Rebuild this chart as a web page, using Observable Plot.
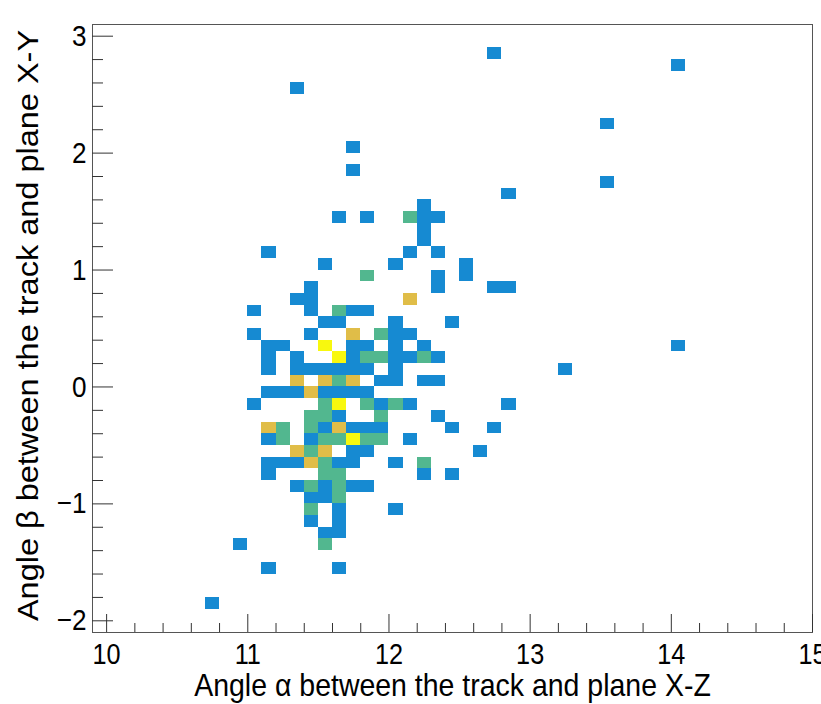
<!DOCTYPE html>
<html>
<head>
<meta charset="utf-8">
<script src="https://cdn.jsdelivr.net/npm/d3@7"></script>
<script src="https://cdn.jsdelivr.net/npm/@observablehq/plot@0.6"></script>
<style>
  html, body { margin: 0; padding: 0; background: #ffffff; }
</style>
</head>
<body>
<div id="chart"></div>
<script>
// 2D histogram: lower edge of each occupied bin (bin size 0.1 x 0.1) and its entry count
const rowLowEdges = [2.8, 2.7, 2.5, 2.2, 2.0, 1.8, 1.7, 1.6, 1.5, 1.4, 1.3, 1.2, 1.1, 1.0, 0.9, 0.8, 0.7, 0.6, 0.5, 0.4, 0.3, 0.2, 0.1, 0.0,
  -0.1, -0.2, -0.3, -0.4, -0.5, -0.6, -0.7, -0.8, -0.9, -1.0, -1.1, -1.2, -1.3, -1.4, -1.6, -1.9];
const rowBinX = [
  [12.7], [14.0], [11.3], [13.5], [11.7], [11.7], [13.5], [12.8], [12.2],
  [11.6, 11.8, 12.1, 12.2, 12.3],
  [12.2], [12.2],
  [11.1, 12.1, 12.3],
  [11.5, 12.0, 12.5],
  [11.8, 12.3, 12.5],
  [11.4, 12.3, 12.7, 12.8],
  [11.3, 11.4, 12.1],
  [11.0, 11.4, 11.6, 11.7, 11.8],
  [11.5, 11.6, 12.0, 12.4],
  [11.0, 11.4, 11.7, 11.9, 12.0, 12.1],
  [11.1, 11.2, 11.5, 11.7, 11.8, 12.0, 12.2, 14.0],
  [11.1, 11.3, 11.6, 11.7, 11.8, 11.9, 12.0, 12.1, 12.2, 12.3],
  [11.1, 11.3, 11.4, 11.5, 11.6, 11.7, 11.8, 12.0, 13.2],
  [11.3, 11.5, 11.6, 11.7, 11.9, 12.0, 12.2, 12.3],
  [11.1, 11.2, 11.3, 11.4, 11.5, 11.6, 11.7, 11.8],
  [11.0, 11.5, 11.6, 11.8, 11.9, 12.0, 12.1, 12.8],
  [11.4, 11.5, 11.6, 11.9, 12.3],
  [11.1, 11.2, 11.4, 11.5, 11.6, 11.7, 11.8, 11.9, 12.4, 12.7],
  [11.1, 11.2, 11.4, 11.5, 11.6, 11.7, 11.8, 11.9, 12.1],
  [11.3, 11.4, 11.5, 11.7, 11.8, 12.6],
  [11.1, 11.2, 11.3, 11.4, 11.5, 11.6, 11.7, 12.0, 12.2],
  [11.1, 11.5, 11.6, 12.2, 12.4],
  [11.3, 11.4, 11.5, 11.6, 11.7, 11.8],
  [11.4, 11.5, 11.6],
  [11.4, 11.6, 12.0],
  [11.4, 11.6],
  [11.5, 11.6],
  [10.9, 11.5],
  [11.1, 11.6],
  [10.7]
];
const rowCounts = [
  [1], [1], [1], [1], [1], [1], [1], [1], [1],
  [1, 1, 2, 1, 1],
  [1], [1],
  [1, 1, 1],
  [1, 1, 1],
  [2, 1, 1],
  [1, 1, 1, 1],
  [1, 1, 3],
  [1, 1, 2, 1, 1],
  [1, 1, 1, 1],
  [1, 1, 3, 2, 1, 1],
  [1, 1, 4, 1, 1, 1, 1, 1],
  [1, 1, 4, 1, 2, 2, 1, 1, 2, 1],
  [1, 1, 1, 1, 1, 1, 1, 1, 1],
  [3, 3, 2, 3, 1, 1, 1, 1],
  [1, 1, 1, 3, 1, 1, 1, 1],
  [1, 2, 4, 2, 1, 2, 1, 1],
  [2, 2, 1, 2, 1],
  [3, 2, 2, 1, 3, 1, 1, 1, 1, 1],
  [1, 2, 1, 2, 2, 4, 2, 2, 1],
  [3, 2, 3, 1, 1, 1],
  [1, 1, 1, 3, 2, 1, 1, 1, 2],
  [1, 2, 2, 1, 1],
  [1, 2, 1, 2, 1, 1],
  [1, 1, 2],
  [2, 1, 1],
  [1, 1],
  [1, 1],
  [1, 2],
  [1, 1],
  [1]
];
const binWidth = 0.1;
const binHeight = 0.1;

const countLevels = [1, 2, 3, 4];
const countColors = ["#168ad2", "#52b78f", "#e0bd48", "#f8f80e"];

const xTicks = [10, 11, 12, 13, 14, 15];
const yTicks = [-2, -1, 0, 1, 2, 3];
const xTitle = "Angle \u03b1 between the track and plane X-Z";
const yTitle = "Angle \u03b2 between the track and plane X-Y";

const cells = [];
rowLowEdges.forEach((y, i) => {
  rowBinX[i].forEach((x, j) => cells.push({x, y, n: rowCounts[i][j]}));
});

const xMinor = d3.range(10, 15.001, 0.2).map(v => +v.toFixed(1)).filter(v => !xTicks.includes(v));
const yMinor = d3.range(-2, 3.001, 0.2).map(v => +v.toFixed(1)).filter(v => !yTicks.includes(v));

const fmt = d => (d < 0 ? "\u2212" + Math.abs(d) : String(d));
const font = "'Liberation Sans', Arial, Helvetica, sans-serif";
const axisStroke = "#333";

const chart = Plot.plot({
  width: 821,
  height: 704,
  marginLeft: 92,
  marginRight: 9,
  marginTop: 24,
  marginBottom: 72,
  style: {fontFamily: font, background: "#ffffff", color: "#000000"},
  x: {domain: [9.9, 15]},
  y: {domain: [-2.1, 3.1]},
  color: {type: "ordinal", domain: countLevels, range: countColors},
  marks: [
    Plot.rect(cells, {
      x1: "x",
      x2: d => +(d.x + binWidth).toFixed(2),
      y1: "y",
      y2: d => +(d.y + binHeight).toFixed(2),
      fill: "n",
      shapeRendering: "crispEdges"
    }),
    Plot.frame({stroke: "#555", strokeWidth: 1}),
    Plot.axisX({anchor: "bottom", ticks: xTicks, tickFormat: fmt, tickSize: -18, tickPadding: 29, fontSize: 29, label: null, stroke: axisStroke}),
    Plot.axisX({anchor: "bottom", ticks: xMinor, tickSize: -9, fill: "none", label: null, stroke: axisStroke}),
    Plot.axisY({anchor: "left", ticks: yTicks, tickFormat: fmt, tickSize: -21, tickPadding: 27, fontSize: 30, label: null, stroke: axisStroke}),
    Plot.axisY({anchor: "left", ticks: yMinor, tickSize: -11, fill: "none", label: null, stroke: axisStroke}),
    Plot.text([xTitle], {text: d => d, frameAnchor: "bottom", dy: 63, lineAnchor: "bottom", fontSize: 32, fill: "#000"}),
    Plot.text([yTitle], {text: d => d, frameAnchor: "left", dx: -55, dy: -3, rotate: -90, textAnchor: "middle", lineAnchor: "bottom", fontSize: 32.5,
      fill: "#000"})
  ]
});

// The reference image is horizontally condensed: squash text glyphs along x
function squashX(t, k) {
  const tr = t.getAttribute("transform") || "";
  const m = tr.match(/^\s*translate\(\s*([-\d.e]+)[,\s]+([-\d.e]+)\s*\)(.*)$/);
  if (m) {
    t.setAttribute("transform", `translate(${m[1]},${m[2]}) scale(${k},1)${m[3]}`);
  } else {
    const x = +(t.getAttribute("x") || 0), y = +(t.getAttribute("y") || 0);
    t.removeAttribute("x"); t.removeAttribute("y");
    t.setAttribute("transform", `translate(${x},${y}) scale(${k},1) ${tr}`);
  }
}
chart.querySelectorAll('g[aria-label="x-axis tick label"] text, g[aria-label="y-axis tick label"] text')
  .forEach(t => squashX(t, 0.87));
chart.querySelectorAll("text")
  .forEach(t => { if (t.textContent === xTitle || t.textContent === yTitle) squashX(t, 0.89); });

document.getElementById("chart").appendChild(chart);
</script>
</body>
</html>
